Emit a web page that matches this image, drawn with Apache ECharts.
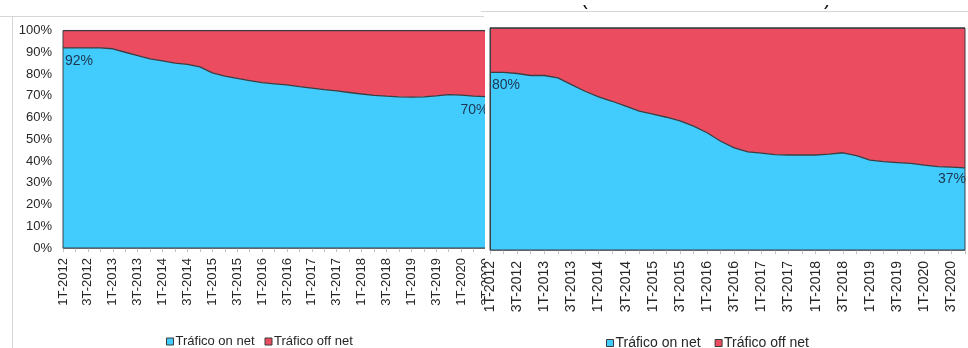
<!DOCTYPE html>
<html>
<head>
<meta charset="utf-8">
<script src="https://cdn.jsdelivr.net/npm/echarts@6/dist/echarts.min.js"></script>
<style>
  html, body { margin: 0; padding: 0; background: #fff; }
  #chart { width: 968px; height: 348px; }
</style>
</head>
<body>
<div id="chart"></div>
<script>
// Quarterly categories shared by both panels
const quarters = [
  '1T-2012','2T-2012','3T-2012','4T-2012',
  '1T-2013','2T-2013','3T-2013','4T-2013',
  '1T-2014','2T-2014','3T-2014','4T-2014',
  '1T-2015','2T-2015','3T-2015','4T-2015',
  '1T-2016','2T-2016','3T-2016','4T-2016',
  '1T-2017','2T-2017','3T-2017','4T-2017',
  '1T-2018','2T-2018','3T-2018','4T-2018',
  '1T-2019','2T-2019','3T-2019','4T-2019',
  '1T-2020','2T-2020','3T-2020','4T-2020'
];

const yTicks = [0, 10, 20, 30, 40, 50, 60, 70, 80, 90, 100];
const seriesNames = ['Tráfico on net', 'Tráfico off net'];

// Left panel: share of traffic (%)
const onNetLeft = [92, 92, 92, 92, 91.6, 90, 88.5, 87, 86, 85, 84.4, 83.3,
  80.5, 79, 78, 77, 76, 75.5, 75, 74.2, 73.5, 72.8, 72.2, 71.5,
  70.8, 70.2, 69.8, 69.5, 69.4, 69.5, 69.9, 70.5, 70.3, 69.8, 69.6, 70];
const offNetLeft = [8, 8, 8, 8, 8.4, 10, 11.5, 13, 14, 15, 15.6, 16.7,
  19.5, 21, 22, 23, 24, 24.5, 25, 25.8, 26.5, 27.2, 27.8, 28.5,
  29.2, 29.8, 30.2, 30.5, 30.6, 30.5, 30.1, 29.5, 29.7, 30.2, 30.4, 30];

// Right panel: share of traffic (%)
const onNetRight = [80, 80, 79.5, 78.6, 78.6, 77.5, 74.5, 71.5, 69, 67, 64.8, 62.6,
  61.2, 59.8, 58.2, 55.8, 52.8, 49, 46, 44.2, 43.6, 43, 42.8, 42.8,
  42.8, 43.2, 43.8, 42.5, 40.5, 39.8, 39.4, 39, 38.2, 37.6, 37.3, 37];
const offNetRight = [20, 20, 20.5, 21.4, 21.4, 22.5, 25.5, 28.5, 31, 33, 35.2, 37.4,
  38.8, 40.2, 41.8, 44.2, 47.2, 51, 54, 55.8, 56.4, 57, 57.2, 57.2,
  57.2, 56.8, 56.2, 57.5, 59.5, 60.2, 60.6, 61, 61.8, 62.4, 62.7, 63];

const BLUE = '#42ccfd';
const RED = '#ec4c5f';
const OUTLINE = '#3b3f44';
const FONT = 'Liberation Sans';
const LABEL_COLOR = '#1d3550';

// On-net values with the first and last points labelled
function withEndLabels(values, firstPos, lastPos, lastAlign, size) {
  return values.map((v, i) => {
    if (i === 0 || i === values.length - 1) {
      const first = i === 0;
      return {
        value: v,
        label: {
          show: true,
          position: first ? firstPos : lastPos,
          align: first ? 'left' : lastAlign,
          verticalAlign: 'top',
          formatter: '{c}%',
          color: LABEL_COLOR,
          fontFamily: FONT,
          fontSize: size
        }
      };
    }
    return v;
  });
}

function makeXAxis(gridIndex, fontSize, margin, z) {
  return {
    type: 'category',
    gridIndex: gridIndex,
    data: quarters,
    boundaryGap: false,
    z: z,
    axisLine: { lineStyle: { color: '#8a8a8a', width: 1 } },
    axisTick: { show: true, interval: 0, length: 4, lineStyle: { color: '#c4c4c4' } },
    axisLabel: {
      interval: 1, rotate: 90, margin: margin,
      color: '#262626', fontFamily: FONT, fontSize: fontSize
    },
    splitLine: { show: false }
  };
}

function makeYAxis(gridIndex, showLabels, z) {
  return {
    type: 'value',
    gridIndex: gridIndex,
    min: yTicks[0],
    max: yTicks[yTicks.length - 1],
    interval: yTicks[1] - yTicks[0],
    z: z,
    axisLine: { show: true, lineStyle: { color: OUTLINE, width: 1 } },
    axisTick: { show: false },
    splitLine: { show: false },
    axisLabel: {
      show: showLabels, formatter: '{value}%', margin: 11,
      color: '#262626', fontFamily: FONT, fontSize: 13
    }
  };
}

function makeSeries(name, values, axisIdx, stack, color, z) {
  return {
    name: name,
    type: 'line',
    xAxisIndex: axisIdx,
    yAxisIndex: axisIdx,
    stack: stack,
    data: values,
    z: z,
    silent: true,
    symbol: 'circle',
    symbolSize: 0.1,
    showSymbol: true,
    itemStyle: { color: color },
    lineStyle: { color: OUTLINE, width: 1.3 },
    areaStyle: { color: color, opacity: 1 },
    emphasis: { disabled: true },
    animation: false
  };
}

const chart = echarts.init(document.getElementById('chart'), null, { renderer: 'canvas' });

chart.setOption({
  animation: false,
  backgroundColor: '#ffffff',
  grid: [
    { left: 63, top: 30.5, width: 435.5, height: 217.5, show: true,
      borderColor: OUTLINE, borderWidth: 1, backgroundColor: 'transparent', z: 3 },
    { left: 490, top: 28, width: 475, height: 222, show: true,
      borderColor: OUTLINE, borderWidth: 1, backgroundColor: 'transparent', z: 8 }
  ],
  xAxis: [makeXAxis(0, 13, 10, 1), makeXAxis(1, 14, 11, 7)],
  yAxis: [makeYAxis(0, true, 1), makeYAxis(1, false, 7)],
  legend: [
    {
      data: seriesNames, left: 161, top: 330, icon: 'rect', z: 10,
      itemWidth: 7, itemHeight: 7, itemGap: 10,
      itemStyle: { borderColor: '#3a3a3a', borderWidth: 1 },
      textStyle: { color: '#262626', fontFamily: FONT, fontSize: 13, padding: [0, 0, 0, -3] },
      selectedMode: false
    },
    {
      data: seriesNames, left: 601, top: 331, icon: 'rect', z: 10,
      itemWidth: 7, itemHeight: 7, itemGap: 14,
      itemStyle: { borderColor: '#3a3a3a', borderWidth: 1 },
      textStyle: { color: '#262626', fontFamily: FONT, fontSize: 14, padding: [0, 0, 0, -3] },
      selectedMode: false
    }
  ],
  series: [
    makeSeries(seriesNames[0], withEndLabels(onNetLeft, [2, 6], [-10, 7], 'right', 14), 0, 'left', BLUE, 2),
    makeSeries(seriesNames[1], offNetLeft, 0, 'left', RED, 2),
    makeSeries(seriesNames[0], withEndLabels(onNetRight, [2, 6], [-27, 4], 'left', 14), 1, 'right', BLUE, 6),
    makeSeries(seriesNames[1], offNetRight, 1, 'right', RED, 6)
  ],
  graphic: [
    // outer frames of the two panels
    { type: 'line', z: 20, shape: { x1: 0, y1: 16.5, x2: 484, y2: 16.5 },
      style: { stroke: '#d6d6d6', lineWidth: 1 } },
    { type: 'line', z: 20, shape: { x1: 12.5, y1: 16, x2: 12.5, y2: 348 },
      style: { stroke: '#d6d6d6', lineWidth: 1 } },
    { type: 'line', z: 20, shape: { x1: 481, y1: 11.5, x2: 968, y2: 11.5 },
      style: { stroke: '#d6d6d6', lineWidth: 1 } },
    // right panel background, laid over the tail of the left panel
    { type: 'rect', z: 5, shape: { x: 485, y: 12, width: 483, height: 336 },
      style: { fill: '#ffffff' } },
    // clipped title brackets of the right panel
    { type: 'text', z: 21, x: 581, y: -11,
      style: { text: '(', fontSize: 20, fontFamily: FONT, fill: '#111' } },
    { type: 'text', z: 21, x: 824, y: -11,
      style: { text: ')', fontSize: 20, fontFamily: FONT, fill: '#111' } },
    { type: 'rect', z: 22, shape: { x: 480, y: 0, width: 488, height: 5 },
      style: { fill: '#ffffff' } }
  ]
});
</script>
</body>
</html>
